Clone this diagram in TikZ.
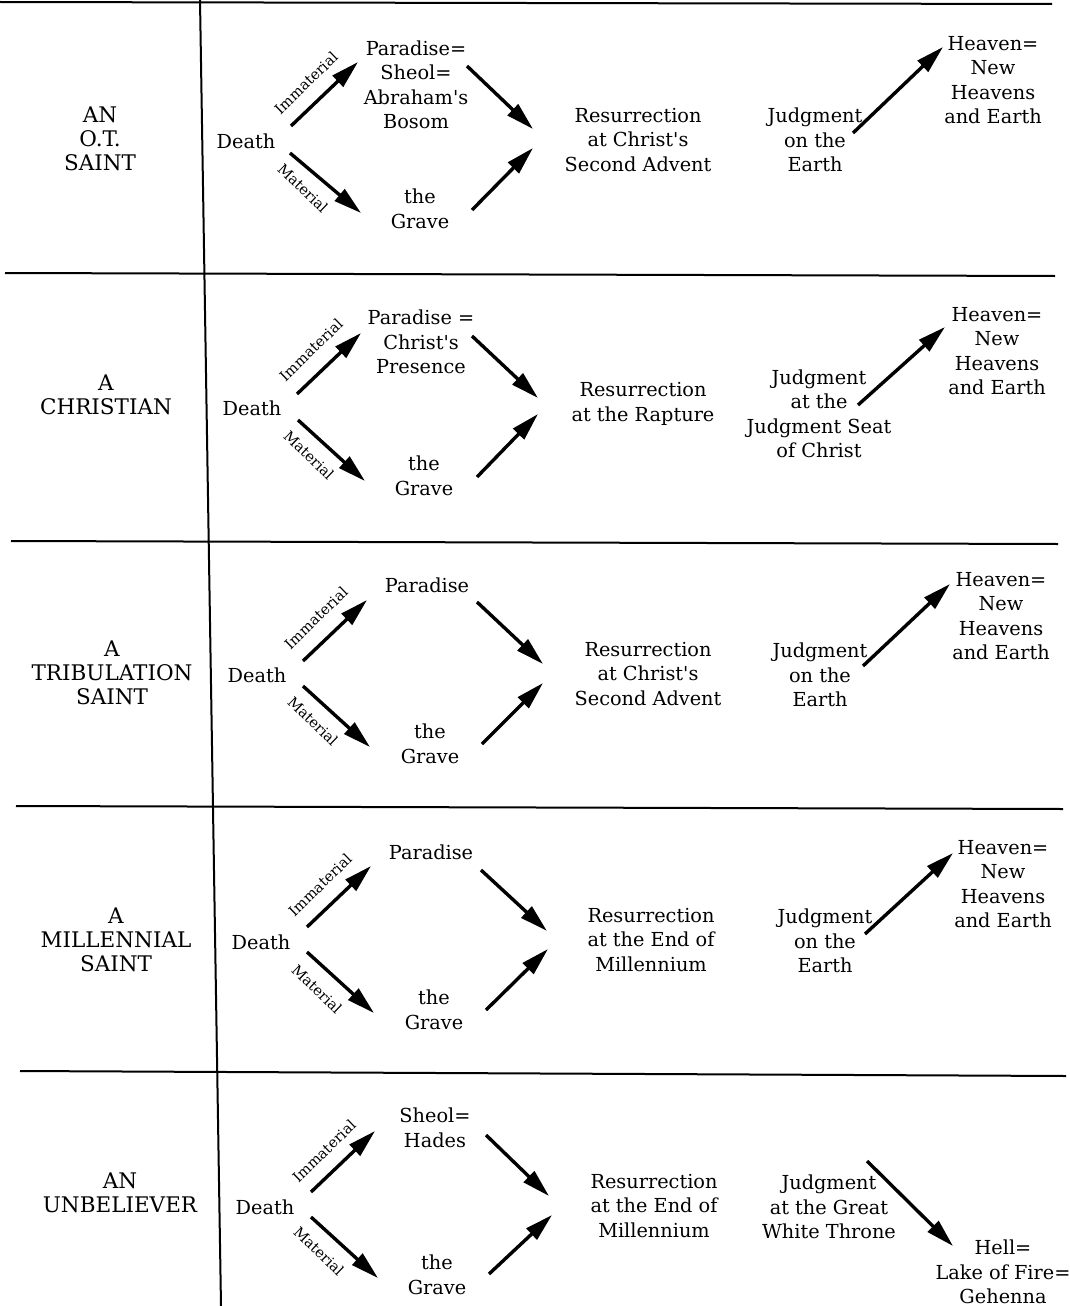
\documentclass[tikz,border=0pt]{standalone}
\usepackage{fontspec}
\setmainfont{DejaVu Serif}
\newfontfamily\dvserif{DejaVu Serif}
\usetikzlibrary{arrows.meta}
\newcommand{\myarrow}[3]{\coordinate (#1s) at (#2); \coordinate (#1e) at (#3); \draw[arr] (#1s) -- (#1e);}
\begin{document}
\begin{tikzpicture}[x=1pt,y=-1pt,
  txt/.style={align=center, inner sep=0pt, font=\dvserif\fontsize{19.3}{24.5}\selectfont},
  who/.style={align=center, inner sep=0pt, font=\dvserif\fontsize{21.5}{24}\selectfont},
  lbl/.style={inner sep=0pt, font=\dvserif\fontsize{14.5}{16}\selectfont},
  rule/.style={line width=2pt},
  arr/.style={line width=3.4pt, -{Triangle[length=28pt,width=15pt]}},
]
\useasboundingbox[fill=white] (0,0) rectangle (1070,1306);
% frame
\draw[rule] (0,2) -- (1052,4);
\draw[rule] (5,273) -- (1055,276);
\draw[rule] (11,541) -- (1058,544);
\draw[rule] (16,806) -- (1063,809);
\draw[rule] (20,1071) -- (1066,1076);
\draw[rule] (200,0) -- (221,1306);

% Row 1
\node[who] (who1) at (100,139) {AN\\O.T.\\SAINT};
\node[txt] (death1) at (246,141) {Death};
\node[txt] (par1) at (416,85) {Paradise=\\Sheol=\\Abraham's\\Bosom};
\node[txt] (grave1) at (420,209) {the\\Grave};
\node[txt] (res1) at (638,140) {Resurrection\\at Christ's\\Second Advent};
\node[txt] (jud1) at (815,140) {Judgment\\on the\\Earth};
\node[txt] (hev1) at (993,80) {Heaven=\\New\\Heavens\\and Earth};
\myarrow{a11}{291,126}{358,62}
\myarrow{a12}{290,153}{361,213}
\myarrow{a13}{467,66}{533,129}
\myarrow{a14}{472,210}{533,148}
\myarrow{a15}{853,133}{943,47}
\node[lbl,rotate=44] (imm1) at (306,83) {Immaterial};
\node[lbl,rotate=-44] (mat1) at (303,188) {Material};

% Row 2
\node[who] (who2) at (106,395) {A\\CHRISTIAN};
\node[txt] (death2) at (252,408) {Death};
\node[txt] (par2) at (421,342) {Paradise =\\Christ's\\Presence};
\node[txt] (grave2) at (424,476) {the\\Grave};
\node[txt] (res2) at (643,404) {Resurrection\\at the Rapture};
\node[txt] (jud2) at (819,414) {Judgment\\at the\\Judgment Seat\\of Christ};
\node[txt] (hev2) at (997,351) {Heaven=\\New\\Heavens\\and Earth};
\myarrow{a21}{297,394}{361,333}
\myarrow{a22}{298,420}{365,481}
\myarrow{a23}{472,336}{538,398}
\myarrow{a24}{477,477}{538,414}
\myarrow{a25}{858,405}{945,327}
\node[lbl,rotate=44] (imm2) at (311,350) {Immaterial};
\node[lbl,rotate=-44] (mat2) at (309,455) {Material};

% Row 3
\node[who] (who3) at (112,673) {A\\TRIBULATION\\SAINT};
\node[txt] (death3) at (257,675) {Death};
\node[txt] (par3) at (427,585) {Paradise};
\node[txt] (grave3) at (430,744) {the\\Grave};
\node[txt] (res3) at (648,674) {Resurrection\\at Christ's\\Second Advent};
\node[txt] (jud3) at (820,675) {Judgment\\on the\\Earth};
\node[txt] (hev3) at (1001,616) {Heaven=\\New\\Heavens\\and Earth};
\myarrow{a31}{303,661}{367,600}
\myarrow{a32}{303,686}{370,747}
\myarrow{a33}{477,602}{543,664}
\myarrow{a34}{482,744}{543,683}
\myarrow{a35}{863,666}{950,584}
\node[lbl,rotate=44] (imm3) at (316,618) {Immaterial};
\node[lbl,rotate=-44] (mat3) at (313,721) {Material};

% Row 4
\node[who] (who4) at (116,940) {A\\MILLENNIAL\\SAINT};
\node[txt] (death4) at (261,942) {Death};
\node[txt] (par4) at (431,852) {Paradise};
\node[txt] (grave4) at (434,1010) {the\\Grave};
\node[txt] (res4) at (651,940) {Resurrection\\at the End of\\Millennium};
\node[txt] (jud4) at (825,941) {Judgment\\on the\\Earth};
\node[txt] (hev4) at (1003,884) {Heaven=\\New\\Heavens\\and Earth};
\myarrow{a41}{307,927}{371,866}
\myarrow{a42}{307,952}{374,1013}
\myarrow{a43}{481,870}{547,931}
\myarrow{a44}{486,1010}{548,949}
\myarrow{a45}{865,934}{953,853}
\node[lbl,rotate=44] (imm4) at (320,885) {Immaterial};
\node[lbl,rotate=-44] (mat4) at (317,989) {Material};

% Row 5
\node[who] (who5) at (120,1193) {AN\\UNBELIEVER};
\node[txt] (death5) at (265,1207) {Death};
\node[txt] (sheol5) at (435,1128) {Sheol=\\Hades};
\node[txt] (grave5) at (437,1275) {the\\Grave};
\node[txt] (res5) at (654,1206) {Resurrection\\at the End of\\Millennium};
\node[txt] (jud5) at (829,1207) {Judgment\\at the Great\\White Throne};
\node[txt] (hell5) at (1003,1272) {Hell=\\Lake of Fire=\\Gehenna};
\myarrow{a51}{311,1192}{375,1131}
\myarrow{a52}{311,1217}{378,1278}
\myarrow{a53}{486,1135}{549,1196}
\myarrow{a54}{489,1274}{552,1215}
\myarrow{a55}{867,1161}{953,1246}
\node[lbl,rotate=44] (imm5) at (324,1151) {Immaterial};
\node[lbl,rotate=-44] (mat5) at (319,1251) {Material};
\end{tikzpicture}
\end{document}
